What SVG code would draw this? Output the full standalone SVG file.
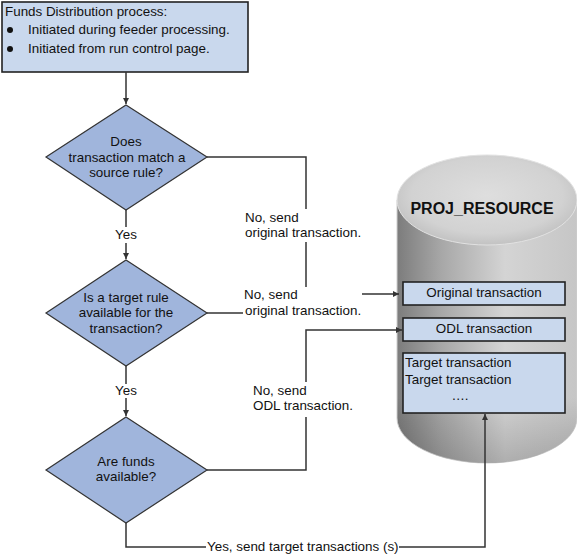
<svg xmlns="http://www.w3.org/2000/svg" width="577" height="555" viewBox="0 0 577 555">
<defs>
<style>
text{font-family:"Liberation Sans",Arial,sans-serif;font-size:13.4px;fill:#111}
.c{text-anchor:middle}
.dia{fill:#a0b5dc;stroke:#333;stroke-width:1.2}
.box{fill:#c9d8ed;stroke:#222;stroke-width:1.6}
.ln{fill:none;stroke:#333;stroke-width:1.5}
</style>
<marker id="ah" viewBox="0 0 10 10" refX="10" refY="5" markerWidth="6" markerHeight="6" orient="auto" markerUnits="userSpaceOnUse">
<path d="M0,0 L10,5 L0,10 Z" fill="#333"/>
</marker>
<linearGradient id="body" x1="0" y1="0" x2="1" y2="0">
<stop offset="0" stop-color="#7c7c7c"/>
<stop offset="0.25" stop-color="#a8a8a8"/>
<stop offset="0.6" stop-color="#d4d4d4"/>
<stop offset="1" stop-color="#c6c6c6"/>
</linearGradient>
<linearGradient id="shade" x1="0" y1="0" x2="0" y2="1">
<stop offset="0" stop-color="#000" stop-opacity="0"/>
<stop offset="0.75" stop-color="#000" stop-opacity="0"/>
<stop offset="1" stop-color="#000" stop-opacity="0.18"/>
</linearGradient>
<radialGradient id="top" cx="0.5" cy="0.45" r="0.6">
<stop offset="0" stop-color="#dedede"/>
<stop offset="0.7" stop-color="#d2d2d2"/>
<stop offset="1" stop-color="#bcbcbc"/>
</radialGradient>
</defs>
<rect width="577" height="555" fill="#fff"/>

<g id="db">
<path d="M397,200 L397,418 A90,45 0 0 0 577,418 L577,200 Z" fill="url(#body)" stroke="#cfcfcf" stroke-width="1"/>
<path d="M397,200 L397,418 A90,45 0 0 0 577,418 L577,200 Z" fill="url(#shade)"/>
<ellipse cx="487" cy="200" rx="90" ry="45" fill="url(#top)" stroke="#e2e2e2" stroke-width="1"/>
<text x="482" y="214" class="c" style="font-weight:bold;font-size:16px">PROJ_RESOURCE</text>
</g>

<g id="start">
<rect x="2" y="2" width="246" height="70" class="box"/>
<text x="5" y="16">Funds Distribution process:</text>
<circle cx="10" cy="30" r="3" fill="#111"/>
<text x="28" y="34">Initiated during feeder processing.</text>
<circle cx="10" cy="49" r="3" fill="#111"/>
<text x="28" y="53">Initiated from run control page.</text>
</g>

<g id="d1">
<polygon points="126,105 207,157 126,210 46,157" class="dia"/>
<text x="126" y="146" class="c">Does</text>
<text x="127" y="162" class="c">transaction match a</text>
<text x="126" y="177" class="c">source rule?</text>
</g>

<g id="d2">
<polygon points="126,260 207,313 126,366 46,313" class="dia"/>
<text x="126" y="302" class="c">Is a target rule</text>
<text x="126" y="317" class="c">available for the</text>
<text x="126" y="333" class="c">transaction?</text>
</g>

<g id="d3">
<polygon points="126,417 207,470 126,523 46,470" class="dia"/>
<text x="126" y="466" class="c">Are funds</text>
<text x="126" y="481" class="c">available?</text>
</g>

<g id="orig">
<rect x="403" y="282" width="162" height="23" class="box"/>
<text x="484" y="297" class="c">Original transaction</text>
</g>
<g id="odl">
<rect x="403" y="318" width="162" height="23" class="box"/>
<text x="484" y="333" class="c">ODL transaction</text>
</g>
<g id="target">
<rect x="403" y="353" width="162" height="60" class="box"/>
<text x="405" y="367">Target transaction</text>
<text x="405" y="384">Target transaction</text>
<text x="460" y="400" class="c">….</text>
</g>

<g id="connectors">
<line x1="126" y1="72" x2="126" y2="104" class="ln" marker-end="url(#ah)"/>
<line x1="126" y1="210" x2="126" y2="227" class="ln"/>
<line x1="126" y1="243" x2="126" y2="259" class="ln" marker-end="url(#ah)"/>
<text x="126" y="239" class="c">Yes</text>
<line x1="126" y1="366" x2="126" y2="384" class="ln"/>
<line x1="126" y1="398" x2="126" y2="416" class="ln" marker-end="url(#ah)"/>
<text x="126" y="395" class="c">Yes</text>

<polyline points="207,157 306,157 306,209" class="ln"/>
<line x1="306" y1="242" x2="306" y2="287" class="ln"/>
<text x="245" y="222">No, send</text>
<text x="245" y="237">original transaction.</text>

<line x1="207" y1="313" x2="243" y2="313" class="ln"/>
<text x="244" y="299">No, send</text>
<text x="245" y="315">original transaction.</text>
<line x1="362" y1="294" x2="399" y2="294" class="ln" marker-end="url(#ah)"/>

<polyline points="207,470 306,470 306,417" class="ln"/>
<polyline points="306,382 306,330 402,330" class="ln" marker-end="url(#ah)"/>
<text x="253" y="395">No, send</text>
<text x="253" y="410">ODL transaction.</text>

<polyline points="126,523 126,547 206,547" class="ln"/>
<text x="207" y="551">Yes, send target transactions (s)</text>
<polyline points="399,547 485,547 485,414" class="ln" marker-end="url(#ah)"/>
</g>
</svg>
